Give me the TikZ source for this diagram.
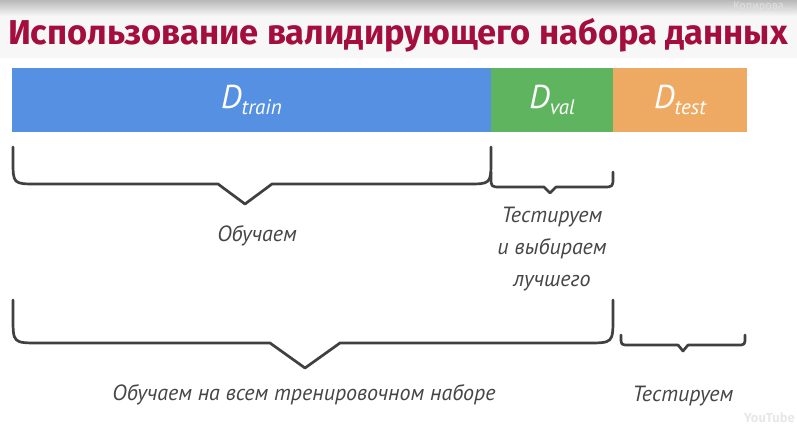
\documentclass[tikz,border=0pt]{standalone}
\usepackage{fontspec}
\setmainfont{PT Sans}
\newfontfamily\titlefont{Fira Sans}
\newfontfamily\handfont{PT Sans}
\definecolor{trainblue}{RGB}{86,144,227}
\definecolor{valgreen}{RGB}{95,180,95}
\definecolor{testorange}{RGB}{238,170,98}
\definecolor{titlered}{RGB}{163,14,62}
\definecolor{braceink}{RGB}{64,64,64}
\definecolor{handink}{RGB}{70,70,70}
\tikzset{
  barbox/.style={inner sep=0pt, outer sep=0pt, minimum height=64pt, text=white, font=\handfont\itshape\fontsize{33}{33}\selectfont},
  bracepath/.style={draw=braceink, line width=2.7pt, line join=round, line cap=round},
  handtext/.style={text=handink, font=\handfont\itshape\fontsize{22}{32}\selectfont, align=center, inner sep=0pt}
}
\newcommand\sub[1]{\raisebox{-6pt}{\fontsize{21}{21}\selectfont #1}}
% #1 xl, #2 xr, #3 ytop, #4 ybot, #5 xtip, #6 ytip, #7 corner, #8 half-width of V
\newcommand\handbrace[8]{%
  \draw[bracepath] (#1,#3) -- (#1,{#4-#7}) .. controls (#1,#4) .. ({#1+#7},#4)
    -- ({#5-#8},#4) -- (#5,#6) -- ({#5+#8},#4) -- ({#2-#7},#4)
    .. controls (#2,#4) .. (#2,{#4-#7}) -- (#2,#3);}
\begin{document}
\begin{tikzpicture}[x=1pt,y=-1pt]
\useasboundingbox (0,0) rectangle (797,428);
\fill[white] (0,0) rectangle (797,428);
\fill[black!3] (0,0) rectangle (797,58);
\shade[top color=black!28,bottom color=black!3] (0,0) rectangle (797,16);
\node[text=white!88!black, font=\titlefont\fontsize{11}{11}\selectfont, anchor=east, inner sep=0pt] (copy) at (792,7) {Копирова...};
\node[text=titlered, font=\titlefont\bfseries\fontsize{34.5}{34.5}\selectfont, anchor=base, inner sep=0pt] (title) at (398,45) {Использование валидирующего набора данных};

\node[barbox, fill=trainblue, minimum width=479pt] (train) at (251.5,100) {D\sub{train}};
\node[barbox, fill=valgreen, minimum width=122pt] (val) at (552,100) {D\sub{val}};
\node[barbox, fill=testorange, minimum width=134pt] (test) at (680,100) {D\sub{test}};

\handbrace{13}{491}{147}{184}{245}{204}{24}{27}
\handbrace{491}{613}{172}{187}{550}{193}{10}{6}
\handbrace{13}{613}{300}{343}{305}{368}{26}{35}
\handbrace{621}{745}{335}{345}{683}{351}{8}{5}

\node[handtext] (learn) at (257,236) {Обучаем};
\node[handtext] (choose) at (552,249) {Тестируем\\и выбираем\\лучшего};
\node[handtext] (learnall) at (304,395) {Обучаем на всем тренировочном наборе};
\node[handtext] (testing) at (683,396) {Тестируем};
\node[text=black!9, font=\titlefont\bfseries\fontsize{13}{13}\selectfont, anchor=east, inner sep=0pt] (yt) at (795,418) {YouTube};
\end{tikzpicture}
\end{document}
